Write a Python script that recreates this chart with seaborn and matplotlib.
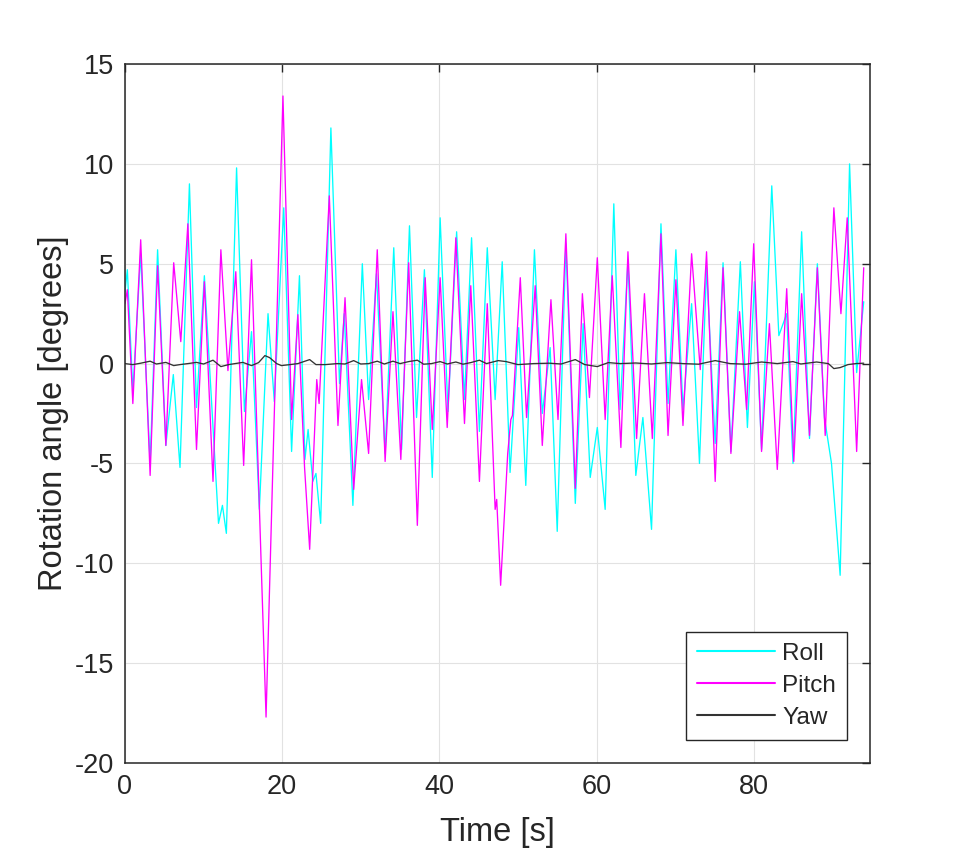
import numpy as np
import pandas as pd
import matplotlib
matplotlib.use("Agg")
import matplotlib.pyplot as plt
import seaborn as sns

# extrema (time in s, angle in degrees)
roll_t = [0.0, 0.3, 1.0, 2.0, 3.2, 4.15, 5.2, 6.15, 7.0, 8.2, 9.1, 10.1, 11.9, 12.4, 12.9,
          14.2, 15.2, 16.1, 17.1, 18.2, 19.0, 20.2, 21.2, 22.2, 22.9, 23.3, 23.9, 24.3, 24.9,
          26.2, 27.3, 27.9, 29.0, 30.2, 31.0, 32.0, 33.1, 34.2, 35.2, 36.2, 37.1, 38.1, 39.1,
          40.1, 41.1, 42.2, 43.2, 44.1, 45.1, 46.1, 47.1, 48.0, 49.0, 50.1, 51.0, 52.1, 53.1,
          54.1, 55.0, 56.1, 57.3, 58.3, 59.2, 60.1, 61.1, 62.2, 63.0, 64.0, 65.0, 65.9, 67.0,
          68.2, 69.1, 70.1, 71.0, 72.1, 73.1, 74.0, 75.1, 76.1, 77.1, 78.3, 79.2, 80.1, 81.0,
          82.3, 83.2, 84.2, 85.0, 86.1, 87.1, 88.1, 89.0, 89.9, 91.0, 92.2, 93.1, 94.0]
roll_v = [3.6, 4.7, -1.4, 5.5, -5.0, 5.7, -4.1, -0.55, -5.2, 9.0, -2.2, 4.4, -8.0, -7.1, -8.5,
          9.8, -2.4, 1.6, -7.3, 2.5, -1.9, 7.8, -4.4, 4.4, -4.8, -3.3, -5.9, -5.5, -8.0,
          11.8, -1.0, 2.5, -7.1, 5.0, -1.8, 4.5, -4.5, 5.8, -4.3, 6.9, -2.7, 4.7, -5.7,
          7.3, -2.4, 6.6, -1.8, 6.3, -3.4, 5.8, -1.8, 5.1, -5.45, 1.8, -6.1, 5.7, -2.5,
          0.8, -8.4, 6.0, -7.0, 2.0, -5.7, -3.2, -7.3, 8.0, -2.3, 5.2, -5.6, -2.7, -8.3,
          7.0, -2.0, 5.7, -2.3, 3.0, -5.0, 4.8, -4.0, 5.05, -4.4, 5.1, -3.2, 4.1, -4.3,
          8.9, 1.4, 2.5, -5.0, 6.6, -3.75, 5.0, -2.7, -5.0, -10.6, 10.0, -0.45, 3.1]

pitch_t = [0.0, 0.3, 1.0, 2.0, 3.2, 4.15, 5.2, 6.2, 7.1, 8.0, 9.1, 10.1, 11.2, 12.2, 13.1,
           14.1, 15.1, 16.1, 17.95, 20.1, 21.2, 22.0, 22.85, 23.5, 24.4, 24.7, 26.0, 27.1,
           28.0, 29.1, 30.1, 31.0, 32.1, 33.1, 34.1, 35.1, 36.1, 37.2, 38.2, 39.1, 40.1,
           41.0, 42.1, 43.2, 44.0, 45.1, 46.1, 47.1, 47.3, 47.8, 48.7, 49.1, 49.3, 50.3,
           51.1, 52.2, 53.1, 54.2, 55.1, 56.1, 57.3, 58.2, 59.1, 60.1, 61.1, 62.0, 63.1,
           64.0, 65.1, 66.1, 67.1, 68.2, 69.1, 70.1, 71.0, 72.1, 73.2, 74.0, 75.1, 76.1,
           77.1, 78.2, 79.1, 80.0, 81.0, 82.0, 83.0, 84.2, 85.1, 86.1, 87.1, 88.1, 89.1,
           90.2, 91.1, 91.9, 93.1, 94.0]
pitch_v = [3.0, 3.7, -2.0, 6.2, -5.6, 4.9, -4.1, 5.05, 1.1, 7.0, -4.3, 4.1, -5.9, 5.7, -0.35,
           4.6, -5.1, 5.2, -17.7, 13.4, -2.8, 2.45, -5.2, -9.3, -0.8, -2.0, 8.4, -3.1,
           3.3, -6.3, -0.8, -4.5, 5.7, -4.9, 2.6, -4.8, 5.05, -8.1, 4.3, -3.3, 4.3,
           -3.2, 6.3, -3.0, 3.9, -5.9, 3.0, -7.3, -6.8, -11.1, -4.5, -2.8, -2.6, 4.3,
           -2.7, 3.9, -4.1, 3.2, -2.8, 6.5, -6.25, 3.5, -1.7, 5.3, -2.8, 4.4, -4.2,
           5.6, -3.75, 3.5, -3.75, 6.5, -3.6, 4.2, -3.1, 5.5, -0.3, 5.6, -5.9, 4.8,
           -4.5, 2.6, -2.3, 6.0, -4.4, 2.0, -5.3, 3.75, -4.9, 3.5, -3.6, 4.8, -3.6,
           7.8, 2.5, 7.3, -4.4, 4.8]

yaw_t = [0, 1, 2, 3.2, 4, 5.2, 6.2, 7, 8, 9.1, 10, 11.2, 12.2, 13.2, 14, 15, 16.1, 17, 17.8,
         18.4, 19.3, 19.9, 21, 22, 23.5, 24.3, 25.5, 27, 28, 29.1, 30, 31, 32.1, 33, 34.1,
         35, 36.1, 37.2, 38, 39, 40.1, 41, 42.1, 43, 44, 45.1, 46, 47.5, 48.5, 50, 52, 54,
         55.5, 57.3, 58.5, 60.1, 61.5, 63, 65, 67, 69, 71, 73, 75.1, 77, 79, 81, 83, 85, 86,
         88, 89.5, 90.2, 91.0, 92, 93, 94]
yaw_v = [0.0, -0.05, 0.02, 0.12, -0.02, 0.06, -0.1, -0.05, 0.0, 0.06, -0.02, 0.17, -0.15,
         -0.05, 0.0, 0.06, -0.1, 0.05, 0.4, 0.3, 0.0, -0.1, -0.05, 0.0, 0.2, -0.05, -0.05,
         0.0, -0.02, 0.15, -0.02, 0.0, 0.12, -0.02, 0.12, 0.0, 0.1, 0.17, -0.03, 0.0, 0.1,
         -0.02, 0.08, -0.03, 0.05, 0.17, 0.0, 0.15, 0.1, -0.05, 0.0, 0.02, -0.02, 0.2, -0.05,
         -0.15, 0.05, 0.0, 0.03, -0.02, 0.05, 0.0, -0.03, 0.15, 0.0, -0.03, 0.08, 0.0, 0.1,
         -0.02, 0.08, 0.0, -0.25, -0.2, -0.05, 0.0, 0.02]

df = pd.concat([
    pd.DataFrame({"t": roll_t, "angle": roll_v, "axis": "Roll"}),
    pd.DataFrame({"t": pitch_t, "angle": pitch_v, "axis": "Pitch"}),
    pd.DataFrame({"t": yaw_t, "angle": yaw_v, "axis": "Yaw"}),
], ignore_index=True)

sns.set_theme(style="white")
plt.rcParams["font.family"] = ["Liberation Sans", "DejaVu Sans"]
plt.rcParams["axes.unicode_minus"] = False

fig = plt.figure(figsize=(9.57, 8.55), dpi=100)
ax = fig.add_axes([0.1306, 0.1076, 0.7785, 0.8175])

PALETTE = {"Roll": "#00ffff", "Pitch": "#ff00ff", "Yaw": "#333333"}
sns.lineplot(data=df, x="t", y="angle", hue="axis", palette=PALETTE,
             sort=False, estimator=None, linewidth=0.95, ax=ax)

ax.set_xlim(0, 94.8)
ax.set_ylim(-20, 15)
ax.set_xticks([0, 20, 40, 60, 80])
ax.set_yticks([-20, -15, -10, -5, 0, 5, 10, 15])
ax.grid(True, color="#e2e2e2", linewidth=0.8)
ax.set_axisbelow(True)

for s in ax.spines.values():
    s.set_color("#262626")
    s.set_linewidth(1.1)
ax.tick_params(direction="in", length=6, width=1, top=True, right=True,
               labelsize=19.5, colors="#262626", pad=8)

ax.set_xlabel("Time [s]", fontsize=23.5, color="#262626", labelpad=12)
ax.set_ylabel("Rotation angle [degrees]", fontsize=23.5, color="#262626", labelpad=4)

handles, labels = ax.get_legend_handles_labels()
leg = ax.legend(handles, labels, loc="lower right", fontsize=17.5, frameon=True,
                fancybox=False, edgecolor="#262626", framealpha=1,
                handlelength=3.2, handletextpad=0.3, labelspacing=0.42,
                borderpad=0.45, borderaxespad=0.95)
leg.get_frame().set_linewidth(1.0)
for line in leg.get_lines():
    line.set_linewidth(1.5)

fig.savefig("out.png", dpi=100)
